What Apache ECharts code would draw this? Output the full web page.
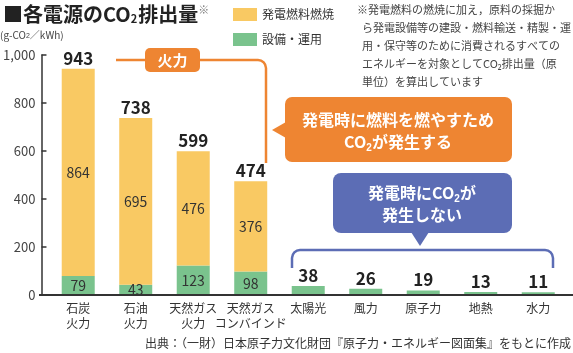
<!DOCTYPE html>
<html lang="ja">
<head>
<meta charset="utf-8">
<title>各電源のCO2排出量</title>
<script src="https://cdn.jsdelivr.net/npm/echarts@6/dist/echarts.min.js"></script>
<style>
  html, body { margin: 0; padding: 0; background: #fff; }
  #chart { width: 573px; height: 353px; }
</style>
</head>
<body>
<div id="chart"></div>
<script>
// 電源種別
const categories = [
  "石炭\n火力", "石油\n火力", "天然ガス\n火力", "天然ガス\nコンバインド",
  "太陽光", "風力", "原子力", "地熱", "水力",
];
// 発電燃料燃焼 (g-CO2/kWh)
const fuelValues = [864, 695, 476, 376, 0, 0, 0, 0, 0];
// 設備・運用 (g-CO2/kWh)
const equipValues = [79, 43, 123, 98, 38, 26, 19, 13, 11];
// 合計（棒の上に表示）
const totalValues = [943, 738, 599, 474, 38, 26, 19, 13, 11];
const yTicks = [0, 200, 400, 600, 800, 1000];

const FONT = '"Noto Sans CJK JP", "Noto Sans", sans-serif';
const YELLOW = "#F9C963";
const GREEN = "#7AC38D";
const ORANGE = "#EE8532";
const BLUE = "#5C6DB5";

const chart = echarts.init(document.getElementById("chart"));

const noteLines = [
  "用・保守等のために消費されるすべての",
  "エネルギーを対象としてCO₂排出量（原",
  "単位）を算出しています",
];

// 角丸の折れ線（ブラケット）を line + arc で組み立てる
const seg = (x1, y1, x2, y2, color) => ({
  type: "line",
  shape: { x1, y1, x2, y2 },
  style: { stroke: color, lineWidth: 2.5 },
});
const corner = (cx, cy, start, end, color) => ({
  type: "arc",
  shape: { cx, cy, r: 8, startAngle: start, endAngle: end, clockwise: true },
  style: { stroke: color, lineWidth: 2.5, fill: null },
});
const PI = Math.PI;

chart.setOption({
  animation: false,
  textStyle: { fontFamily: FONT },
  title: {
    left: -2,
    top: -1,
    text: "{a|■各電源のCO}{b|2}{a|排出量}{c|※}",
    textStyle: {
      rich: {
        a: { fontSize: 20, fontWeight: "bold", color: "#222", fontFamily: FONT },
        b: { fontSize: 11, fontWeight: "bold", color: "#222", fontFamily: FONT, verticalAlign: "bottom", padding: [0, 1, 0, 0] },
        c: { fontSize: 11, color: "#777", fontFamily: FONT, verticalAlign: "top" },
      },
    },
  },
  legend: {
    data: ["発電燃料燃焼", "設備・運用"],
    orient: "vertical",
    left: 228,
    top: 3,
    icon: "rect",
    itemWidth: 24,
    itemHeight: 13,
    itemGap: 12,
    textStyle: { fontSize: 12, color: "#333", fontFamily: FONT },
  },
  grid: { left: 47, right: 6, top: 55, bottom: 58 },
  xAxis: {
    type: "category",
    data: categories,
    axisLine: { show: false },
    axisTick: { show: false },
    axisLabel: {
      interval: 0,
      margin: 6,
      fontSize: 12,
      lineHeight: 15,
      color: "#333",
      fontFamily: FONT,
    },
  },
  yAxis: {
    type: "value",
    min: 0,
    max: 1000,
    interval: 200,
    offset: 8,
    axisLine: { show: true, lineStyle: { color: "#333", width: 1.5 } },
    axisTick: { show: true, inside: true, length: 5, lineStyle: { color: "#333", width: 1.5 } },
    splitLine: { show: false },
    axisLabel: {
      margin: 6,
      fontSize: 13,
      color: "#444",
      fontFamily: FONT,
      formatter: (v) => (yTicks.includes(v) ? v.toLocaleString("en-US") : ""),
    },
  },
  series: [
    {
      name: "設備・運用",
      type: "bar",
      stack: "co2",
      barWidth: 33,
      data: equipValues,
      itemStyle: { color: GREEN },
      label: {
        show: true,
        position: "inside",
        fontSize: 14,
        color: "#333",
        fontFamily: FONT,
        formatter: (p) => (p.dataIndex < 4 ? p.value : ""),
      },
    },
    {
      name: "発電燃料燃焼",
      type: "bar",
      stack: "co2",
      barWidth: 33,
      data: fuelValues,
      itemStyle: { color: YELLOW },
      label: {
        show: true,
        position: "inside",
        fontSize: 14,
        color: "#333",
        fontFamily: FONT,
        formatter: (p) => (p.value > 0 ? p.value : ""),
      },
    },
    {
      name: "合計",
      type: "bar",
      stack: "co2",
      barWidth: 33,
      data: totalValues.map(() => 0),
      itemStyle: { color: "transparent" },
      label: {
        show: true,
        position: "top",
        distance: 2,
        fontSize: 17,
        fontWeight: "bold",
        color: "#222",
        fontFamily: FONT,
        formatter: (p) => totalValues[p.dataIndex],
      },
    },
  ],
  graphic: [
    // 単位
    {
      type: "text",
      left: 0,
      top: 30,
      style: {
        text: "(g-CO{s|2}／kWh)",
        fontSize: 10,
        fill: "#444",
        fontFamily: FONT,
        rich: { s: { fontSize: 7, fill: "#444", verticalAlign: "bottom" } },
      },
    },
    // 注記
    {
      type: "text",
      x: 357,
      y: 1,
      style: { text: "※発電燃料の燃焼に加え，原料の採掘か", fontSize: 11, lineHeight: 18, fill: "#444", fontFamily: FONT },
    },
    {
      type: "text",
      x: 362,
      y: 19,
      style: { text: "ら発電設備等の建設・燃料輸送・精製・運", fontSize: 11, lineHeight: 18, fill: "#444", fontFamily: FONT },
    },
    {
      type: "text",
      x: 362,
      y: 37,
      style: { text: noteLines.join("\n"), fontSize: 11, lineHeight: 18, fill: "#444", fontFamily: FONT },
    },
    // x軸線
    {
      type: "line",
      shape: { x1: 39, y1: 295, x2: 573, y2: 295 },
      style: { stroke: "#333", lineWidth: 2 },
      z: 10,
    },
    // 火力ブラケット
    seg(116, 60, 146, 60, ORANGE),
    seg(199, 60, 258, 60, ORANGE),
    corner(258, 68, -PI / 2, 0, ORANGE),
    seg(266, 68, 266, 163, ORANGE),
    {
      type: "rect",
      shape: { x: 145, y: 48, width: 55, height: 24, r: 5 },
      style: { fill: ORANGE },
    },
    {
      type: "text",
      x: 172.5,
      y: 60,
      style: { text: "火力", fontSize: 15, fontWeight: "bold", fill: "#fff", align: "center", verticalAlign: "middle", fontFamily: FONT },
    },
    // 吹き出し（オレンジ）
    {
      type: "polygon",
      shape: { points: [[286, 122], [272, 130], [286, 138]] },
      style: { fill: ORANGE },
    },
    {
      type: "rect",
      shape: { x: 285, y: 97, width: 227, height: 65, r: 7 },
      style: { fill: ORANGE },
    },
    {
      type: "text",
      x: 398,
      y: 131,
      style: {
        text: "発電時に燃料を燃やすため\nCO{s|2}が発生する",
        fontSize: 16,
        fontWeight: "bold",
        lineHeight: 22,
        fill: "#fff",
        align: "center",
        verticalAlign: "middle",
        fontFamily: FONT,
        rich: { s: { fontSize: 10, fontWeight: "bold", fill: "#fff", verticalAlign: "bottom" } },
      },
    },
    // 吹き出し（青）
    {
      type: "polygon",
      shape: { points: [[411, 232], [420, 246], [429, 232]] },
      style: { fill: BLUE },
    },
    {
      type: "rect",
      shape: { x: 333, y: 173, width: 179, height: 60, r: 8 },
      style: { fill: BLUE },
    },
    {
      type: "text",
      x: 422,
      y: 204,
      style: {
        text: "発電時にCO{s|2}が\n発生しない",
        fontSize: 16,
        fontWeight: "bold",
        lineHeight: 22,
        fill: "#fff",
        align: "center",
        verticalAlign: "middle",
        fontFamily: FONT,
        rich: { s: { fontSize: 10, fontWeight: "bold", fill: "#fff", verticalAlign: "bottom" } },
      },
    },
    // 非火力ブラケット
    seg(292, 268, 292, 258, BLUE),
    corner(300, 258, PI, PI * 1.5, BLUE),
    seg(300, 250, 545, 250, BLUE),
    corner(545, 258, -PI / 2, 0, BLUE),
    seg(553, 258, 553, 268, BLUE),
    // 出典
    {
      type: "text",
      x: 571,
      y: 343,
      style: {
        text: "出典：（一財）日本原子力文化財団『原子力・エネルギー図面集』をもとに作成",
        fontSize: 12,
        fill: "#333",
        align: "right",
        verticalAlign: "middle",
        fontFamily: FONT,
      },
    },
  ],
});
</script>
</body>
</html>
